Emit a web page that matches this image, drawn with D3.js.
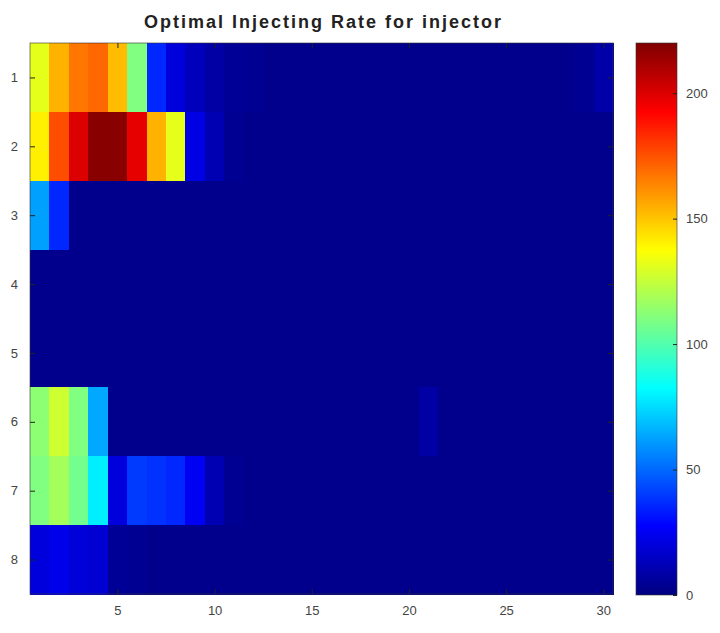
<!DOCTYPE html>
<html>
<head>
<meta charset="utf-8">
<script src="https://cdn.jsdelivr.net/npm/d3@7"></script>
<style>
  html, body { margin: 0; padding: 0; background: #fff; }
  svg { display: block; }
  text { font-family: "Liberation Sans", Arial, sans-serif; }
</style>
</head>
<body>
<svg id="chart" width="720" height="633"></svg>
<script>
// Injection rate per injector (rows) and time step (columns)
const injectors = [1, 2, 3, 4, 5, 6, 7, 8];
const steps = d3.range(1, 31);
const injector1 = [132, 154, 167, 170, 152, 110, 36, 20, 13, 8, 5, 4, 3, 3, 3, 3, 3, 3, 3, 3, 3, 3, 3, 3, 3, 3, 3, 3, 4, 9];
const injector2 = [141, 176, 200, 218, 218, 198, 154, 132, 22, 11, 4, 3, 3, 3, 3, 3, 3, 3, 3, 3, 3, 3, 3, 3, 3, 3, 3, 3, 3, 3];
const injector3 = [62, 36, 3, 3, 3, 3, 3, 3, 3, 3, 3, 3, 3, 3, 3, 3, 3, 3, 3, 3, 3, 3, 3, 3, 3, 3, 3, 3, 3, 3];
const injector4 = [3, 3, 3, 3, 3, 3, 3, 3, 3, 3, 3, 3, 3, 3, 3, 3, 3, 3, 3, 3, 3, 3, 3, 3, 3, 3, 3, 3, 3, 3];
const injector5 = [3, 3, 3, 3, 3, 3, 3, 3, 3, 3, 3, 3, 3, 3, 3, 3, 3, 3, 3, 3, 3, 3, 3, 3, 3, 3, 3, 3, 3, 3];
const injector6 = [113, 127, 110, 64, 3, 3, 3, 3, 3, 3, 3, 3, 3, 3, 3, 3, 3, 3, 3, 3, 8, 3, 3, 3, 3, 3, 3, 3, 3, 3];
const injector7 = [110, 118, 107, 79, 20, 40, 38, 36, 25, 11, 4, 3, 3, 3, 3, 3, 3, 3, 3, 3, 3, 3, 3, 3, 3, 3, 3, 3, 3, 3];
const injector8 = [20, 23, 19, 18, 5, 4, 3, 3, 3, 3, 3, 3, 3, 3, 3, 3, 3, 3, 3, 3, 3, 3, 3, 3, 3, 3, 3, 3, 3, 3];
const rates = [injector1, injector2, injector3, injector4, injector5, injector6, injector7, injector8];
const xTicks = [5, 10, 15, 20, 25, 30];
const colorTicks = [0, 50, 100, 150, 200];
const colorMax = 220;

// Jet colormap
function jet(t) {
  const c = v => Math.round(255 * Math.max(0, Math.min(1, v)));
  const r = 1.5 - Math.abs(4 * t - 3);
  const g = 1.5 - Math.abs(4 * t - 2);
  const b = 1.5 - Math.abs(4 * t - 1);
  return `rgb(${c(r)},${c(g)},${c(b)})`;
}

const svg = d3.select("#chart");
const plot = { left: 30, right: 613, top: 43, bottom: 594 };
const bar = { left: 636, right: 677, top: 43, bottom: 595 };

const x = d3.scaleLinear().domain([0.5, 30.5]).range([plot.left, plot.right]);
const y = d3.scaleLinear().domain([0.5, 8.5]).range([plot.top, plot.bottom]);
const color = d3.scaleSequential(jet).domain([0, colorMax]).clamp(true);

// Heatmap cells
const cells = [];
rates.forEach((row, i) => row.forEach((v, j) => cells.push({ r: injectors[i], c: steps[j], v })));
svg.append("g")
  .attr("shape-rendering", "crispEdges")
  .selectAll("rect")
  .data(cells)
  .join("rect")
  .attr("x", d => x(d.c - 0.5))
  .attr("y", d => y(d.r - 0.5))
  .attr("width", d => x(d.c + 0.5) - x(d.c - 0.5) + 0.5)
  .attr("height", d => y(d.r + 0.5) - y(d.r - 0.5) + 0.5)
  .attr("fill", d => color(d.v));

// Axes with inward ticks
const axisStyle = g => {
  g.select(".domain").remove();
  g.selectAll(".tick line").attr("stroke", "#222").attr("stroke-width", 1);
  g.selectAll(".tick text").attr("fill", "#444").attr("font-size", 13);
};
svg.append("g")
  .attr("transform", `translate(0,${plot.bottom})`)
  .call(d3.axisBottom(x).tickValues(xTicks).tickSize(-5).tickPadding(12).tickFormat(d3.format("d")))
  .call(axisStyle);
svg.append("g")
  .attr("transform", `translate(0,${plot.top})`)
  .call(d3.axisTop(x).tickValues(xTicks).tickSize(-5).tickFormat(""))
  .call(axisStyle);
svg.append("g")
  .attr("transform", `translate(${plot.left},0)`)
  .call(d3.axisLeft(y).tickValues(injectors).tickSize(-5).tickPadding(12).tickFormat(d3.format("d")))
  .call(axisStyle);
svg.append("g")
  .attr("transform", `translate(${plot.right},0)`)
  .call(d3.axisRight(y).tickValues(injectors).tickSize(-5).tickFormat(""))
  .call(axisStyle);
svg.append("rect")
  .attr("x", plot.left).attr("y", plot.top)
  .attr("width", plot.right - plot.left).attr("height", plot.bottom - plot.top)
  .attr("fill", "none").attr("stroke", "#333").attr("stroke-opacity", 0.6);

// Title
svg.append("text")
  .attr("x", (plot.left + plot.right) / 2 + 2)
  .attr("y", 28)
  .attr("text-anchor", "middle")
  .attr("font-size", 18)
  .attr("font-weight", "bold")
  .attr("letter-spacing", 2)
  .attr("fill", "#222")
  .text("Optimal Injecting Rate for injector");

// Colorbar
const cScale = d3.scaleLinear().domain([0, colorMax]).range([bar.bottom, bar.top]);
const grad = svg.append("defs").append("linearGradient")
  .attr("id", "jetGrad").attr("x1", 0).attr("y1", 1).attr("x2", 0).attr("y2", 0);
d3.range(0, 1.0001, 1 / 64).forEach(t => {
  grad.append("stop").attr("offset", t).attr("stop-color", color(t * colorMax));
});
svg.append("rect")
  .attr("x", bar.left).attr("y", bar.top)
  .attr("width", bar.right - bar.left).attr("height", bar.bottom - bar.top)
  .attr("fill", "url(#jetGrad)")
  .attr("stroke", "#333").attr("stroke-opacity", 0.6);
svg.append("g")
  .attr("transform", `translate(${bar.right},0)`)
  .call(d3.axisRight(cScale).tickValues(colorTicks).tickSize(-4).tickPadding(9).tickFormat(d3.format("d")))
  .call(axisStyle);
</script>
</body>
</html>
